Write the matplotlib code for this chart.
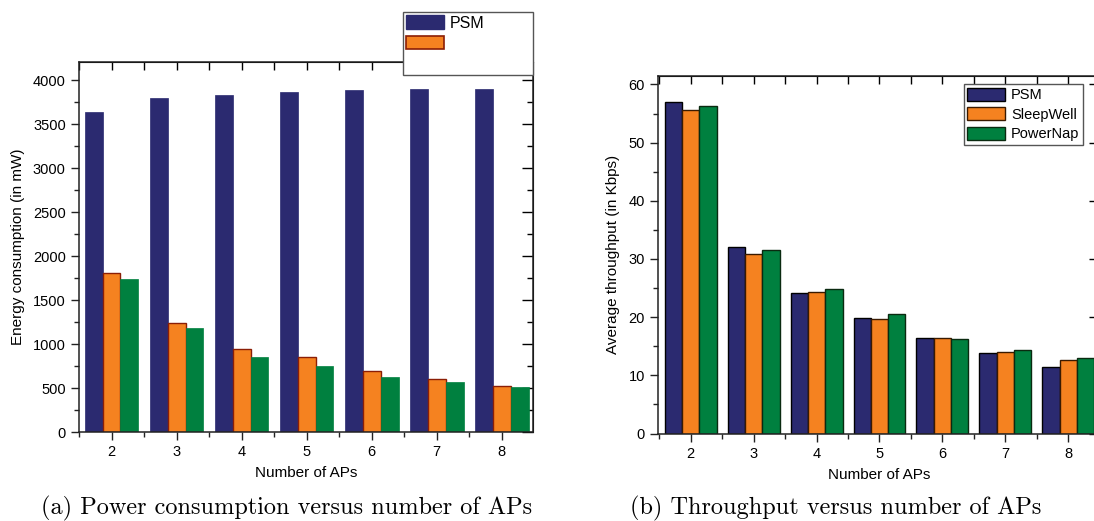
import matplotlib
matplotlib.use("Agg")
import matplotlib.pyplot as plt
import numpy as np
from matplotlib.patches import Patch
from matplotlib.ticker import MultipleLocator

aps = [2, 3, 4, 5, 6, 7, 8]
series = ["PSM", "SleepWell", "PowerNap"]

# energy consumption (mW)
energy_psm = [3645, 3795, 3835, 3865, 3890, 3898, 3902]
energy_sleepwell = [1812, 1242, 939, 848, 695, 600, 529]
energy_powernap = [1740, 1182, 848, 749, 623, 570, 517]

# throughput (Kbps)
thr_psm = [57.0, 32.1, 24.2, 19.9, 16.4, 13.8, 11.4]
thr_sleepwell = [55.6, 30.8, 24.4, 19.6, 16.4, 13.95, 12.7]
thr_powernap = [56.3, 31.5, 24.9, 20.5, 16.25, 14.3, 12.9]

c_navy = "#2B2A70"
c_orange = "#F58220"
c_green = "#00803F"

plt.rcParams["font.family"] = ["Liberation Sans", "DejaVu Sans"]

fig = plt.figure(figsize=(10.94, 5.21), dpi=100)
W, H = 1094, 521

def px_axes(l, t, r, b):
    return fig.add_axes([l / W, 1 - b / H, (r - l) / W, (b - t) / H])

ax1 = px_axes(79, 62, 533, 432)
ax2 = px_axes(658, 75.7, 1099.7, 433.5)

x = np.array(aps)
bw = 0.275
off = 0.275

# left chart
ax1.bar(x - off, energy_psm, bw, color=c_navy, edgecolor=c_navy, linewidth=0.5)
ax1.bar(x, energy_sleepwell, bw, color=c_orange, edgecolor="#8B1E05", linewidth=1.0)
ax1.bar(x + off, energy_powernap, bw, color=c_green, edgecolor=c_green, linewidth=0.5)
ax1.set_xlim(1.5, 8.48)
ax1.set_ylim(0, 4210)
ax1.yaxis.set_major_locator(MultipleLocator(500))
ax1.yaxis.set_minor_locator(MultipleLocator(250))
ax1.set_ylabel("Energy consumption (in mW)", fontsize=11, labelpad=6)

# right chart
ax2.bar(x - off, thr_psm, bw, color=c_navy, edgecolor="black", linewidth=1.0)
ax2.bar(x, thr_sleepwell, bw, color=c_orange, edgecolor="#3A1A00", linewidth=1.0)
ax2.bar(x + off, thr_powernap, bw, color=c_green, edgecolor="#0A2A10", linewidth=1.0)
ax2.set_xlim(1.48, 8.5)
ax2.set_ylim(0, 61.5)
ax2.yaxis.set_major_locator(MultipleLocator(10))
ax2.yaxis.set_minor_locator(MultipleLocator(5))
ax2.set_ylabel("Average throughput (in Kbps)", fontsize=11, labelpad=6)

for ax in (ax1, ax2):
    ax.set_xticks(aps)
    ax.set_xticklabels([str(a) for a in aps])
    ax.xaxis.set_minor_locator(MultipleLocator(0.5))
    ax.set_xlabel("Number of APs", fontsize=11, labelpad=5)
    ax.tick_params(which="both", direction="out", top=False, right=False,
                   labelsize=10.5, width=1.0, color="#222222")
    ax.tick_params(which="major", length=6)
    ax.tick_params(which="minor", length=3.5)
    sec_x = ax.secondary_xaxis("top")
    sec_x.set_xticks(aps)
    sec_x.xaxis.set_minor_locator(MultipleLocator(0.5))
    sec_x.tick_params(which="both", direction="in", labeltop=False, width=1.0)
    sec_x.tick_params(which="major", length=6)
    sec_x.tick_params(which="minor", length=6)
    sec_y = ax.secondary_yaxis("right")
    sec_y.yaxis.set_major_locator(ax.yaxis.get_major_locator())
    sec_y.yaxis.set_minor_locator(ax.yaxis.get_minor_locator())
    sec_y.tick_params(which="both", direction="in", labelright=False, width=1.0)
    sec_y.tick_params(which="major", length=8)
    sec_y.tick_params(which="minor", length=4)
    for s in ax.spines.values():
        s.set_linewidth(1.1)
        s.set_color("#222222")

# left legend: partly hidden third entry, box pokes above the axes
h_left = [Patch(facecolor=c_navy, edgecolor=c_navy),
          Patch(facecolor=c_orange, edgecolor="#8B1E05", linewidth=1.2),
          Patch(facecolor="none", edgecolor="none")]
leg1 = fig.legend(h_left, ["PSM", "", ""],
                  bbox_to_anchor=(403 / W, 1 - 74 / H, 130 / W, 62 / H),
                  loc="upper left", mode="expand", borderaxespad=0,
                  fontsize=11.5, handlelength=2.35, handleheight=0.95,
                  handletextpad=0.4, labelspacing=0.32, borderpad=0.2,
                  fancybox=False, framealpha=1, edgecolor="#555555")
leg1.get_frame().set_linewidth(1.0)
leg1.set_zorder(10)

h_right = [Patch(facecolor=c_navy, edgecolor="black"),
           Patch(facecolor=c_orange, edgecolor="#3A1A00"),
           Patch(facecolor=c_green, edgecolor="#0A2A10")]
leg2 = fig.legend(h_right, series,
                  bbox_to_anchor=(1083 / W, 1 - 84 / H),
                  loc="upper right", borderaxespad=0,
                  fontsize=10.5, handlelength=2.6, handleheight=1.0,
                  handletextpad=0.4, labelspacing=0.35, borderpad=0.25,
                  fancybox=False, framealpha=1, edgecolor="#555555")
leg2.get_frame().set_linewidth(1.0)

fig.text(287 / W, 1 - 508 / H, "(a) Power consumption versus number of APs",
         ha="center", va="center", fontsize=17.5, family="cmr10")
fig.text(836 / W, 1 - 508 / H, "(b) Throughput versus number of APs",
         ha="center", va="center", fontsize=17.5, family="cmr10")

fig.savefig("out.png", dpi=100)
